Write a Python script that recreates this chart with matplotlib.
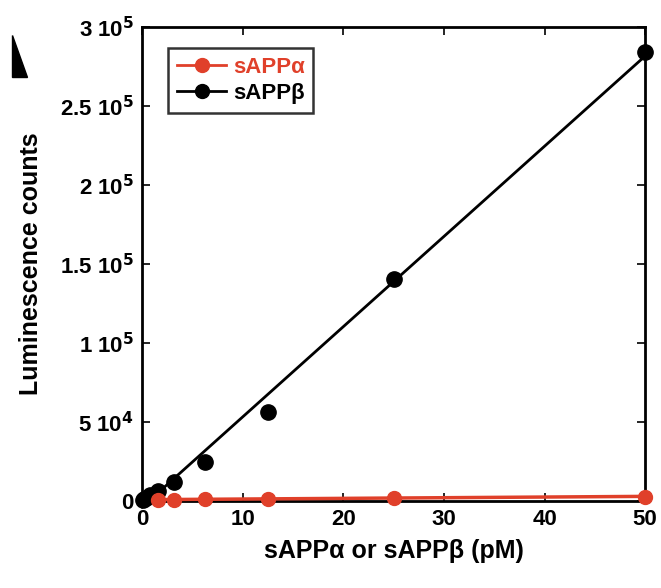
import numpy as np
import matplotlib
matplotlib.use("Agg")
import matplotlib.pyplot as plt
import matplotlib.patches as mpatches

plt.rcParams['font.family'] = ['Liberation Sans', 'DejaVu Sans']
plt.rcParams['font.weight'] = 'bold'

# concentrations (pM)
conc_beta = [0.1, 0.2, 0.4, 0.8, 1.56, 3.125, 6.25, 12.5, 25, 50]
lum_beta = [800, 1200, 2000, 3500, 6500, 12000, 24500, 56500, 140500, 284500]
conc_alpha = [1.56, 3.125, 6.25, 12.5, 25, 50]
lum_alpha = [600, 900, 1200, 1500, 2000, 2800]

yticks = [0, 5e4, 1e5, 1.5e5, 2e5, 2.5e5, 3e5]
ytick_labels = ['0', r'5 10$^4$', r'1 10$^5$', r'1.5 10$^5$', r'2 10$^5$', r'2.5 10$^5$', r'3 10$^5$']
xticks = [0, 10, 20, 30, 40, 50]

red = '#e0402a'

fig = plt.figure(figsize=(6.61, 5.88), dpi=100)
ax = fig.add_axes([0.215, 0.148, 0.761, 0.806])

# linear fits drawn through the data range
xs = np.array([0, 50])
kb = np.polyfit(conc_beta, lum_beta, 1)
ka = np.polyfit(conc_alpha, lum_alpha, 1)
ax.plot(xs, np.polyval(kb, xs), color='black', lw=2, clip_on=False, zorder=3)
ax.plot(xs, np.polyval(ka, xs), color=red, lw=2.5, clip_on=False, zorder=3)

ax.plot(conc_beta, lum_beta, 'o', color='black', ms=11, clip_on=False, zorder=4)
ax.plot(conc_alpha, lum_alpha, 'o', color=red, ms=10, clip_on=False, zorder=5)

# legend handles
h1, = ax.plot([], [], '-o', color=red, lw=2, ms=10)
h2, = ax.plot([], [], '-o', color='black', lw=2, ms=10)
leg = ax.legend([h1, h2], ['sAPPα', 'sAPPβ'], loc='upper left', bbox_to_anchor=(0.03, 0.98),
                frameon=True, fancybox=False, edgecolor='black', fontsize=16,
                handlelength=2.2, handletextpad=0.3, borderpad=0.4, labelspacing=0.25)
leg.get_frame().set_linewidth(1.8)
leg.get_texts()[0].set_color(red)

ax.set_xlim(0, 50)
ax.set_ylim(0, 3e5)
ax.set_xticks(xticks)
ax.set_yticks(yticks)
ax.set_yticklabels(ytick_labels)
ax.tick_params(direction='in', top=True, right=True, length=6, width=1.2,
               labelsize=16, pad=6)
for sp in ax.spines.values():
    sp.set_linewidth(2)

ax.set_xlabel('sAPPα or sAPPβ (pM)', fontsize=18, fontweight='bold', labelpad=6)
ax.set_ylabel('Luminescence counts', fontsize=18, fontweight='bold', labelpad=12)

# cropped panel letter fragment at top left
tri = mpatches.Polygon([[12 / 661, 1 - 35 / 588], [12 / 661, 1 - 77 / 588], [27 / 661, 1 - 77 / 588]],
                       closed=True, transform=fig.transFigure, color='black')
fig.patches.append(tri)

fig.savefig('out.png', dpi=100)
